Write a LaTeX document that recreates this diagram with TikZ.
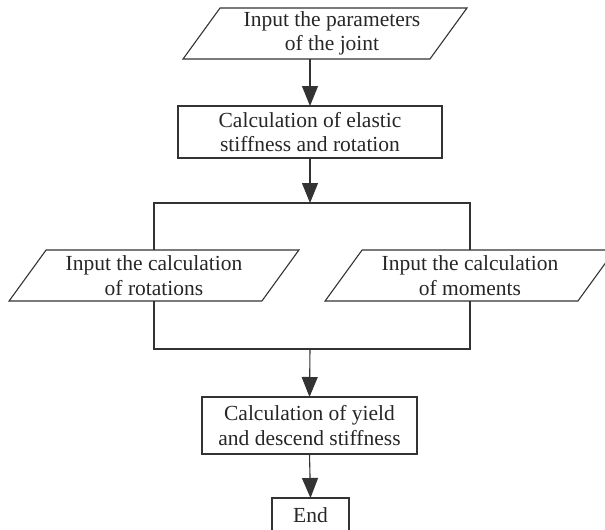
\documentclass[tikz,border=0pt]{standalone}
\usepackage{fontspec}
\setmainfont{Liberation Serif}
\usetikzlibrary{arrows.meta,shapes.geometric}
\begin{document}
\begin{tikzpicture}[x=1pt,y=-1pt,
  every node/.style={font=\fontsize{21.5}{24.5}\selectfont, align=center, inner sep=0pt, outer sep=0pt, text=black!85},
  linestyle/.style={draw=black!80, line width=1.1pt},
  procbox/.style={linestyle, rectangle},
  iobox/.style={linestyle, trapezium, trapezium left angle=52.6, trapezium right angle=127.4,
                trapezium stretches=true, minimum height=51pt},
  arr/.style={linestyle, -{Triangle[length=20pt,width=16pt]}},
  conn/.style={linestyle}
]
\useasboundingbox (0,0) rectangle (605,530);

\node[iobox, minimum width=284pt] (p1) at (325,33.5) {\hspace*{14pt}Input the parameters\\\hspace*{14pt}of the joint};
\node[procbox, minimum width=264pt, minimum height=52pt] (b1) at (310,132) {Calculation of elastic\\stiffness and rotation};
\node[iobox, minimum width=290pt] (p2) at (154,275.5) {Input the calculation\\of rotations};
\node[iobox, minimum width=290pt] (p3) at (470,275.5) {Input the calculation\\of moments};
\node[procbox, minimum width=215pt, minimum height=57pt] (b2) at (309.5,425.5) {Calculation of yield\\and descend stiffness};
\node[procbox, minimum width=77pt, minimum height=34pt] (e) at (310.5,515) {End};

\coordinate (split) at (310,203);
\coordinate (join) at (310,349);

\draw[arr] (p1.south -| b1.north) -- (b1.north);
\draw[arr] (b1.south) -- (split);
\draw[conn] (p2.north) |- (split) -| (p3.north);
\draw[conn] (p2.south) |- (join) -| (p3.south);
\draw[arr] (join) -- (b2.north);
\draw[arr] (b2.south) -- (e.north);
\end{tikzpicture}
\end{document}
